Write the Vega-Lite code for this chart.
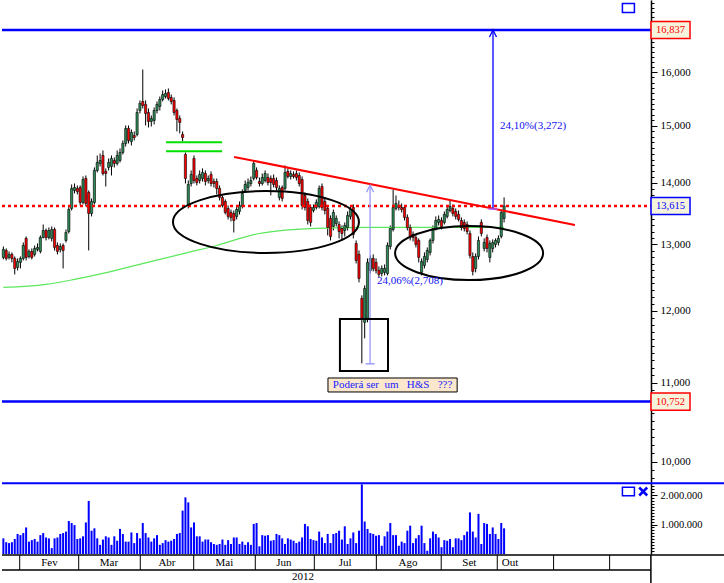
{
"$schema": "https://vega.github.io/schema/vega-lite/v6.json",
"padding": 0,
"spacing": 0,
"background": "white",
"config": {"view": {"stroke": null}, "font": "Liberation Serif", "concat": {"spacing": 0}},
"datasets": {
"ohlc": [
{"i":0,"o":12796,"h":12966,"l":12765,"c":12920,"v":530000},
{"i":1,"o":12904,"h":12935,"l":12749,"c":12780,"v":400000},
{"i":2,"o":12796,"h":12889,"l":12765,"c":12843,"v":370000},
{"i":3,"o":12843,"h":12873,"l":12719,"c":12780,"v":400000},
{"i":4,"o":12780,"h":12811,"l":12536,"c":12627,"v":510000},
{"i":5,"o":12643,"h":12780,"l":12597,"c":12734,"v":680000},
{"i":6,"o":12719,"h":12811,"l":12627,"c":12780,"v":640000},
{"i":7,"o":12780,"h":13029,"l":12749,"c":12982,"v":710000},
{"i":8,"o":13093,"h":13124,"l":12749,"c":12796,"v":900000},
{"i":9,"o":12811,"h":12920,"l":12780,"c":12889,"v":420000},
{"i":10,"o":12889,"h":12935,"l":12765,"c":12796,"v":470000},
{"i":11,"o":12843,"h":12982,"l":12811,"c":12935,"v":510000},
{"i":12,"o":12920,"h":13014,"l":12889,"c":12951,"v":420000},
{"i":13,"o":12889,"h":13140,"l":12858,"c":13108,"v":640000},
{"i":14,"o":13108,"h":13315,"l":13093,"c":13219,"v":710000},
{"i":15,"o":13219,"h":13251,"l":13061,"c":13108,"v":560000},
{"i":16,"o":13108,"h":13267,"l":13077,"c":13219,"v":530000},
{"i":17,"o":13093,"h":13283,"l":13045,"c":13235,"v":200000},
{"i":18,"o":13235,"h":13267,"l":12904,"c":12951,"v":530000},
{"i":19,"o":12982,"h":13029,"l":12843,"c":12889,"v":560000},
{"i":20,"o":12920,"h":13014,"l":12873,"c":12966,"v":680000},
{"i":21,"o":12982,"h":13014,"l":12627,"c":12904,"v":710000},
{"i":22,"o":13061,"h":13235,"l":13029,"c":13187,"v":760000},
{"i":23,"o":13203,"h":13608,"l":13171,"c":13558,"v":1120000},
{"i":24,"o":13575,"h":13974,"l":13542,"c":13907,"v":1050000},
{"i":25,"o":13873,"h":13990,"l":13823,"c":13923,"v":980000},
{"i":26,"o":13907,"h":13957,"l":13807,"c":13856,"v":510000},
{"i":27,"o":13923,"h":13957,"l":13624,"c":13674,"v":530000},
{"i":28,"o":13674,"h":14109,"l":13641,"c":14058,"v":600000},
{"i":29,"o":14075,"h":14126,"l":13608,"c":13657,"v":1070000},
{"i":30,"o":13840,"h":13873,"l":12904,"c":13493,"v":1800000},
{"i":31,"o":13493,"h":13740,"l":13445,"c":13690,"v":790000},
{"i":32,"o":13674,"h":14264,"l":13641,"c":14212,"v":870000},
{"i":33,"o":14212,"h":14471,"l":14178,"c":14350,"v":530000},
{"i":34,"o":14333,"h":14506,"l":14281,"c":14384,"v":310000},
{"i":35,"o":14471,"h":14559,"l":14126,"c":14160,"v":490000},
{"i":36,"o":14195,"h":14247,"l":13940,"c":14160,"v":600000},
{"i":37,"o":14264,"h":14419,"l":14212,"c":14350,"v":560000},
{"i":38,"o":14281,"h":14471,"l":14126,"c":14419,"v":310000},
{"i":39,"o":14384,"h":14436,"l":14264,"c":14333,"v":600000},
{"i":40,"o":14333,"h":14559,"l":14298,"c":14471,"v":450000},
{"i":41,"o":14384,"h":14594,"l":14350,"c":14524,"v":850000},
{"i":42,"o":14524,"h":14736,"l":14489,"c":14683,"v":680000},
{"i":43,"o":14683,"h":15005,"l":14629,"c":14951,"v":420000},
{"i":44,"o":14951,"h":15005,"l":14683,"c":14736,"v":420000},
{"i":45,"o":14718,"h":14933,"l":14647,"c":14879,"v":730000},
{"i":46,"o":14825,"h":14897,"l":14736,"c":14789,"v":370000},
{"i":47,"o":14843,"h":15316,"l":14807,"c":15242,"v":710000},
{"i":48,"o":15279,"h":15465,"l":15224,"c":15409,"v":530000},
{"i":49,"o":15446,"h":16053,"l":15316,"c":15372,"v":1050000},
{"i":50,"o":15391,"h":15465,"l":15005,"c":15224,"v":710000},
{"i":51,"o":15242,"h":15316,"l":14969,"c":15078,"v":560000},
{"i":52,"o":15078,"h":15187,"l":14987,"c":15132,"v":420000},
{"i":53,"o":15096,"h":15335,"l":15023,"c":15279,"v":530000},
{"i":54,"o":15279,"h":15446,"l":15224,"c":15391,"v":640000},
{"i":55,"o":15353,"h":15539,"l":15279,"c":15484,"v":310000},
{"i":56,"o":15484,"h":15652,"l":15446,"c":15577,"v":370000},
{"i":57,"o":15539,"h":15671,"l":15502,"c":15596,"v":470000},
{"i":58,"o":15614,"h":15690,"l":15465,"c":15502,"v":420000},
{"i":59,"o":15521,"h":15577,"l":15391,"c":15446,"v":450000},
{"i":60,"o":15465,"h":15521,"l":15187,"c":15242,"v":510000},
{"i":61,"o":15279,"h":15316,"l":14897,"c":15114,"v":680000},
{"i":62,"o":15132,"h":15187,"l":14861,"c":15060,"v":710000},
{"i":63,"o":14843,"h":14897,"l":14718,"c":14789,"v":1470000},
{"i":64,"o":14489,"h":14524,"l":13990,"c":14075,"v":1920000},
{"i":65,"o":13624,"h":14041,"l":13575,"c":13974,"v":1750000},
{"i":66,"o":13990,"h":14212,"l":13940,"c":14143,"v":900000},
{"i":67,"o":14419,"h":14471,"l":13990,"c":14041,"v":1070000},
{"i":68,"o":14075,"h":14126,"l":13957,"c":14007,"v":600000},
{"i":69,"o":14041,"h":14212,"l":13990,"c":14143,"v":600000},
{"i":70,"o":14075,"h":14247,"l":14024,"c":14178,"v":420000},
{"i":71,"o":14160,"h":14212,"l":13957,"c":14024,"v":490000},
{"i":72,"o":14041,"h":14126,"l":13990,"c":14075,"v":490000},
{"i":73,"o":14143,"h":14195,"l":13940,"c":13990,"v":400000},
{"i":74,"o":14024,"h":14075,"l":13923,"c":13990,"v":340000},
{"i":75,"o":14024,"h":14075,"l":13807,"c":13907,"v":310000},
{"i":76,"o":13907,"h":13957,"l":13707,"c":13757,"v":340000},
{"i":77,"o":13757,"h":13790,"l":13591,"c":13624,"v":490000},
{"i":78,"o":13690,"h":13724,"l":13477,"c":13510,"v":310000},
{"i":79,"o":13575,"h":13624,"l":13396,"c":13445,"v":470000},
{"i":80,"o":13510,"h":13558,"l":13364,"c":13429,"v":340000},
{"i":81,"o":13493,"h":13542,"l":13187,"c":13380,"v":560000},
{"i":82,"o":13445,"h":13624,"l":13396,"c":13558,"v":560000},
{"i":83,"o":13526,"h":13690,"l":13477,"c":13624,"v":340000},
{"i":84,"o":13608,"h":13890,"l":13575,"c":13823,"v":420000},
{"i":85,"o":13873,"h":14041,"l":13840,"c":13974,"v":310000},
{"i":86,"o":13923,"h":14075,"l":13873,"c":14007,"v":400000},
{"i":87,"o":13990,"h":14109,"l":13940,"c":14041,"v":310000},
{"i":88,"o":14075,"h":14384,"l":14041,"c":14333,"v":1020000},
{"i":89,"o":14212,"h":14264,"l":14058,"c":14092,"v":1050000},
{"i":90,"o":14024,"h":14092,"l":13940,"c":13990,"v":260000},
{"i":91,"o":13990,"h":14160,"l":13957,"c":14092,"v":640000},
{"i":92,"o":14041,"h":14212,"l":14007,"c":14160,"v":620000},
{"i":93,"o":14092,"h":14160,"l":13957,"c":14007,"v":640000},
{"i":94,"o":14075,"h":14126,"l":13790,"c":14007,"v":450000},
{"i":95,"o":14075,"h":14143,"l":13923,"c":13974,"v":470000},
{"i":96,"o":14041,"h":14092,"l":13873,"c":13923,"v":680000},
{"i":97,"o":13757,"h":13957,"l":13707,"c":13907,"v":640000},
{"i":98,"o":13923,"h":13957,"l":13690,"c":13740,"v":530000},
{"i":99,"o":13907,"h":14298,"l":13873,"c":14178,"v":340000},
{"i":100,"o":14195,"h":14247,"l":14075,"c":14109,"v":530000},
{"i":101,"o":14109,"h":14212,"l":14058,"c":14160,"v":490000},
{"i":102,"o":14143,"h":14195,"l":14075,"c":14109,"v":450000},
{"i":103,"o":14160,"h":14212,"l":14041,"c":14092,"v":370000},
{"i":104,"o":14126,"h":14178,"l":13940,"c":13990,"v":420000},
{"i":105,"o":14058,"h":14109,"l":13558,"c":13624,"v":560000},
{"i":106,"o":13790,"h":13840,"l":13542,"c":13591,"v":1020000},
{"i":107,"o":13690,"h":13740,"l":13315,"c":13380,"v":940000},
{"i":108,"o":13591,"h":13641,"l":13283,"c":13348,"v":510000},
{"i":109,"o":13542,"h":13641,"l":13510,"c":13591,"v":470000},
{"i":110,"o":13591,"h":13724,"l":13558,"c":13674,"v":450000},
{"i":111,"o":13608,"h":13957,"l":13575,"c":13907,"v":760000},
{"i":112,"o":13940,"h":13990,"l":13542,"c":13591,"v":560000},
{"i":113,"o":13690,"h":13740,"l":13477,"c":13542,"v":370000},
{"i":114,"o":13575,"h":13608,"l":13140,"c":13267,"v":680000},
{"i":115,"o":13412,"h":13461,"l":13061,"c":13124,"v":370000},
{"i":116,"o":13283,"h":13558,"l":13219,"c":13510,"v":680000},
{"i":117,"o":13331,"h":13461,"l":13283,"c":13412,"v":710000},
{"i":118,"o":13315,"h":13364,"l":13093,"c":13203,"v":790000},
{"i":119,"o":13251,"h":13299,"l":13061,"c":13171,"v":490000},
{"i":120,"o":13219,"h":13348,"l":13124,"c":13299,"v":940000},
{"i":121,"o":13267,"h":13526,"l":13219,"c":13461,"v":340000},
{"i":122,"o":13445,"h":13624,"l":13396,"c":13558,"v":530000},
{"i":123,"o":13591,"h":13641,"l":13093,"c":13156,"v":730000},
{"i":124,"o":13014,"h":13061,"l":12704,"c":12749,"v":370000},
{"i":125,"o":12843,"h":12904,"l":12416,"c":12476,"v":790000},
{"i":126,"o":12179,"h":12223,"l":11260,"c":11889,"v":2360000},
{"i":127,"o":11832,"h":12371,"l":11605,"c":12327,"v":1100000},
{"i":128,"o":11889,"h":12780,"l":11832,"c":12719,"v":850000},
{"i":129,"o":12597,"h":12827,"l":12551,"c":12780,"v":710000},
{"i":130,"o":12780,"h":12843,"l":12582,"c":12627,"v":680000},
{"i":131,"o":12719,"h":12780,"l":12551,"c":12597,"v":620000},
{"i":132,"o":12597,"h":12658,"l":12491,"c":12536,"v":640000},
{"i":133,"o":12551,"h":12673,"l":12506,"c":12627,"v":280000},
{"i":134,"o":12567,"h":12688,"l":12521,"c":12627,"v":600000},
{"i":135,"o":12551,"h":13029,"l":12521,"c":12982,"v":760000},
{"i":136,"o":12966,"h":13299,"l":12920,"c":13251,"v":1050000},
{"i":137,"o":13235,"h":13890,"l":13203,"c":13591,"v":640000},
{"i":138,"o":13575,"h":13790,"l":13542,"c":13657,"v":640000},
{"i":139,"o":13624,"h":13707,"l":13542,"c":13591,"v":280000},
{"i":140,"o":13591,"h":13657,"l":13510,"c":13558,"v":420000},
{"i":141,"o":13591,"h":13624,"l":13380,"c":13429,"v":370000},
{"i":142,"o":13429,"h":13477,"l":13219,"c":13267,"v":790000},
{"i":143,"o":13267,"h":13315,"l":13061,"c":13124,"v":960000},
{"i":144,"o":13156,"h":13203,"l":13045,"c":13108,"v":370000},
{"i":145,"o":13108,"h":13156,"l":12951,"c":12998,"v":530000},
{"i":146,"o":13061,"h":13093,"l":12719,"c":12796,"v":640000},
{"i":147,"o":12567,"h":12780,"l":12521,"c":12734,"v":960000},
{"i":148,"o":12673,"h":12873,"l":12627,"c":12811,"v":370000},
{"i":149,"o":12765,"h":12951,"l":12719,"c":12904,"v":110000},
{"i":150,"o":12873,"h":13093,"l":12827,"c":13061,"v":530000},
{"i":151,"o":13061,"h":13299,"l":13014,"c":13251,"v":760000},
{"i":152,"o":13251,"h":13445,"l":13219,"c":13380,"v":680000},
{"i":153,"o":13348,"h":13461,"l":13299,"c":13396,"v":560000},
{"i":154,"o":13380,"h":13429,"l":13235,"c":13283,"v":230000},
{"i":155,"o":13348,"h":13526,"l":13315,"c":13477,"v":470000},
{"i":156,"o":13445,"h":13624,"l":13412,"c":13558,"v":450000},
{"i":157,"o":13542,"h":13724,"l":13510,"c":13608,"v":510000},
{"i":158,"o":13575,"h":13641,"l":13445,"c":13493,"v":230000},
{"i":159,"o":13526,"h":13575,"l":13396,"c":13445,"v":530000},
{"i":160,"o":13477,"h":13542,"l":13364,"c":13396,"v":530000},
{"i":161,"o":13380,"h":13429,"l":13219,"c":13267,"v":470000},
{"i":162,"o":13348,"h":13396,"l":13203,"c":13251,"v":640000},
{"i":163,"o":13315,"h":13364,"l":13156,"c":13203,"v":760000},
{"i":164,"o":13171,"h":13219,"l":12780,"c":12827,"v":1410000},
{"i":165,"o":12811,"h":12873,"l":12521,"c":12582,"v":760000},
{"i":166,"o":12627,"h":12858,"l":12567,"c":12811,"v":560000},
{"i":167,"o":12811,"h":13124,"l":12765,"c":13061,"v":1360000},
{"i":168,"o":13348,"h":13396,"l":13124,"c":13171,"v":340000},
{"i":169,"o":12935,"h":13093,"l":12889,"c":13029,"v":1050000},
{"i":170,"o":13108,"h":13156,"l":12873,"c":12935,"v":1020000},
{"i":171,"o":12796,"h":13061,"l":12719,"c":13014,"v":680000},
{"i":172,"o":12935,"h":13077,"l":12873,"c":13029,"v":900000},
{"i":173,"o":12998,"h":13093,"l":12951,"c":13061,"v":680000},
{"i":174,"o":13029,"h":13140,"l":12982,"c":13093,"v":510000},
{"i":175,"o":13124,"h":13558,"l":13093,"c":13510,"v":1050000},
{"i":176,"o":13412,"h":13757,"l":13348,"c":13615,"v":870000}
],
"ma": [
{"i":0,"p":12341},{"i":15,"p":12386},{"i":25,"p":12461},{"i":35,"p":12551},{"i":45,"p":12658},{"i":55,"p":12765},{"i":65,"p":12873},{"i":75,"p":12982},{"i":82,"p":13077},{"i":90,"p":13171},{"i":98,"p":13219},{"i":110,"p":13251},{"i":130,"p":13267},{"i":176,"p":13267}
],
"levels": [
{"kind":"target","p":16837,"i0":-0.48,"i1":227.6,"ti":234.5,"label":"16,837"},
{"kind":"last","p":13615,"i0":-0.48,"i1":227.6,"ti":234.5,"label":"13,615"},
{"kind":"stop","p":10752,"i0":-0.48,"i1":227.6,"ti":234.5,"label":"10,752"}
],
"moves": [
{"name":"A","i":172.1,"p0":13565,"p1":16837,"label":"24,10%(3,272)","ti":174.6,"tp":14997},
{"name":"B","i":128.9,"p0":11254,"p1":13962,"label":"24,06%(2,708)","ti":131.3,"tp":12437}
]
},
"vconcat": [
{
"width": 724, "height": 482,
"resolve": {"axis": {"y": "independent"}},
"layer": [
{"data": {"name": "ohlc"}, "mark": {"type": "rule", "color": "black", "strokeWidth": 1},
 "encoding": {
  "x": {"field": "i", "type": "quantitative", "scale": {"domain": [-0.48, 254], "nice": false, "zero": false, "padding": 0}, "axis": null},
  "y": {"field": "l", "type": "quantitative", "scale": {"type": "log", "domain": [9758, 17458], "nice": false, "zero": false},
   "axis": {"orient": "right", "offset": -75, "title": null, "grid": false,
    "values": [10000,11000,12000,13000,14000,15000,16000,17000],
    "labelExpr": "datum.value >= 17000 ? '' : format(datum.value, ',')", "tickSize": 6,
    "domainColor": "black", "domainWidth": 1.5, "tickColor": "black", "labelColor": "black",
    "labelFont": "Liberation Serif", "labelFontSize": 11, "labelPadding": 3, "labelOverlap": false, "labelFlush": false, "labelBound": false}},
  "y2": {"field": "h"}
 }},
{"data": {"name": "ma"}, "mark": {"type": "line", "color": "#5be85b", "strokeWidth": 1.2, "interpolate": "monotone"},
 "encoding": {
  "x": {"field": "i", "type": "quantitative", "scale": {"domain": [-0.48, 254], "nice": false, "zero": false, "padding": 0}, "axis": null},
  "y": {"field": "p", "type": "quantitative", "scale": {"type": "log", "domain": [9758, 17458], "nice": false, "zero": false},
   "axis": {"orient": "right", "offset": -75, "title": null, "grid": false, "labels": false, "domain": false,
    "values": [9800,9900,10100,10200,10300,10400,10500,10600,10700,10800,10900,11100,11200,11300,11400,11500,11600,11700,11800,11900,12100,12200,12300,12400,12500,12600,12700,12800,12900,13100,13200,13300,13400,13500,13600,13700,13800,13900,14100,14200,14300,14400,14500,14600,14700,14800,14900,15100,15200,15300,15400,15500,15600,15700,15800,15900,16100,16200,16300,16400,16500,16600,16700,16800,16900,17100,17200,17300,17400],
    "tickSize": 3, "tickColor": "black"}}
 }},
{"data": {"name": "ohlc"}, "mark": {"type": "bar", "size": 2.2, "stroke": "black", "strokeWidth": 0.6, "orient": "vertical"},
 "encoding": {
  "x": {"field": "i", "type": "quantitative", "scale": {"domain": [-0.48, 254], "nice": false, "zero": false, "padding": 0}, "axis": null},
  "y": {"field": "o", "type": "quantitative", "scale": {"type": "log", "domain": [9758, 17458], "nice": false, "zero": false}, "axis": null},
  "y2": {"field": "c"},
  "fill": {"condition": {"test": "datum.o > datum.c", "value": "#ff0000"}, "value": "#2e8b57"}
 }},
{"data": {"name": "levels"}, "transform": [{"filter": "datum.kind !== 'last'"}], "mark": {"type": "rule", "color": "#0000ff", "strokeWidth": 2.5},
 "encoding": {
  "x": {"field": "i0", "type": "quantitative", "scale": {"domain": [-0.48, 254], "nice": false, "zero": false, "padding": 0}, "axis": null},
  "x2": {"field": "i1"},
  "y": {"field": "p", "type": "quantitative", "scale": {"type": "log", "domain": [9758, 17458], "nice": false, "zero": false}, "axis": null}
 }},
{"data": {"name": "levels"}, "transform": [{"filter": "datum.kind === 'last'"}], "mark": {"type": "rule", "color": "#ff0000", "strokeWidth": 2.5, "strokeDash": [3, 3]},
 "encoding": {
  "x": {"field": "i0", "type": "quantitative", "scale": {"domain": [-0.48, 254], "nice": false, "zero": false, "padding": 0}, "axis": null},
  "x2": {"field": "i1"},
  "y": {"field": "p", "type": "quantitative", "scale": {"type": "log", "domain": [9758, 17458], "nice": false, "zero": false}, "axis": null}
 }},
{"data": {"values": [{"i": 81.1, "p": 14446}, {"i": 200.9, "p": 13307}]}, "mark": {"type": "line", "color": "#ff0000", "strokeWidth": 2},
 "encoding": {
  "x": {"field": "i", "type": "quantitative", "scale": {"domain": [-0.48, 254], "nice": false, "zero": false, "padding": 0}, "axis": null},
  "y": {"field": "p", "type": "quantitative", "scale": {"type": "log", "domain": [9758, 17458], "nice": false, "zero": false}, "axis": null}
 }},
{"data": {"values": [{"p": 14703, "i0": 57.2, "i1": 76.9}, {"p": 14544, "i0": 57.2, "i1": 76.9}]}, "mark": {"type": "rule", "color": "#00e000", "strokeWidth": 2},
 "encoding": {
  "x": {"field": "i0", "type": "quantitative", "scale": {"domain": [-0.48, 254], "nice": false, "zero": false, "padding": 0}, "axis": null},
  "x2": {"field": "i1"},
  "y": {"field": "p", "type": "quantitative", "scale": {"type": "log", "domain": [9758, 17458], "nice": false, "zero": false}, "axis": null}
 }},
{"data": {"values": [{"i": 92.3, "p": 13355}]}, "mark": {"type": "point", "shape": "M -1 0 C -1 -0.184 -0.552 -0.333 0 -0.333 C 0.552 -0.333 1 -0.184 1 0 C 1 0.184 0.552 0.333 0 0.333 C -0.552 0.333 -1 0.184 -1 0 Z", "size": 34596, "filled": false, "color": "black", "strokeWidth": 2, "opacity": 1},
 "encoding": {
  "x": {"field": "i", "type": "quantitative", "scale": {"domain": [-0.48, 254], "nice": false, "zero": false, "padding": 0}, "axis": null},
  "y": {"field": "p", "type": "quantitative", "scale": {"type": "log", "domain": [9758, 17458], "nice": false, "zero": false}, "axis": null}
 }},
{"data": {"values": [{"i": 163.7, "p": 12863}]}, "mark": {"type": "point", "shape": "M -1 0 C -1 -0.2016 -0.552 -0.365 0 -0.365 C 0.552 -0.365 1 -0.2016 1 0 C 1 0.2016 0.552 0.365 0 0.365 C -0.552 0.365 -1 0.2016 -1 0 Z", "size": 21904, "filled": false, "color": "black", "strokeWidth": 2, "opacity": 1},
 "encoding": {
  "x": {"field": "i", "type": "quantitative", "scale": {"domain": [-0.48, 254], "nice": false, "zero": false, "padding": 0}, "axis": null},
  "y": {"field": "p", "type": "quantitative", "scale": {"type": "log", "domain": [9758, 17458], "nice": false, "zero": false}, "axis": null}
 }},
{"data": {"name": "moves"}, "mark": {"type": "rule", "strokeWidth": 1.3},
 "encoding": {
  "x": {"field": "i", "type": "quantitative", "scale": {"domain": [-0.48, 254], "nice": false, "zero": false, "padding": 0}, "axis": null},
  "y": {"field": "p0", "type": "quantitative", "scale": {"type": "log", "domain": [9758, 17458], "nice": false, "zero": false}, "axis": null},
  "y2": {"field": "p1"},
  "color": {"condition": {"test": "datum.name === 'A'", "value": "#0000ff"}, "value": "#9a9aff"}
 }},
{"data": {"name": "moves"}, "mark": {"type": "point", "shape": "M -1 2 L 0 0 L 1 2", "size": 49, "filled": false, "strokeWidth": 1.3, "opacity": 1},
 "encoding": {
  "x": {"field": "i", "type": "quantitative", "scale": {"domain": [-0.48, 254], "nice": false, "zero": false, "padding": 0}, "axis": null},
  "y": {"field": "p1", "type": "quantitative", "scale": {"type": "log", "domain": [9758, 17458], "nice": false, "zero": false}, "axis": null},
  "color": {"condition": {"test": "datum.name === 'A'", "value": "#0000ff"}, "value": "#9a9aff"}
 }},
{"data": {"name": "moves"}, "mark": {"type": "point", "shape": "M -1 0 L 1 0", "size": 81, "filled": false, "strokeWidth": 1.5, "opacity": 1},
 "encoding": {
  "x": {"field": "i", "type": "quantitative", "scale": {"domain": [-0.48, 254], "nice": false, "zero": false, "padding": 0}, "axis": null},
  "y": {"field": "p0", "type": "quantitative", "scale": {"type": "log", "domain": [9758, 17458], "nice": false, "zero": false}, "axis": null},
  "color": {"condition": {"test": "datum.name === 'A'", "value": "#b060ff"}, "value": "#9a9aff"}
 }},
{"data": {"name": "moves"}, "mark": {"type": "text", "align": "left", "baseline": "middle", "fontSize": 11, "color": "#1010f0", "font": "Liberation Serif"},
 "encoding": {
  "x": {"field": "ti", "type": "quantitative", "scale": {"domain": [-0.48, 254], "nice": false, "zero": false, "padding": 0}, "axis": null},
  "y": {"field": "tp", "type": "quantitative", "scale": {"type": "log", "domain": [9758, 17458], "nice": false, "zero": false}, "axis": null},
  "text": {"field": "label"}
 }},
{"data": {"values": [{"i0": 118.3, "i1": 135.2, "p0": 11158, "p1": 11881}]}, "mark": {"type": "rect", "filled": false, "stroke": "black", "strokeWidth": 2},
 "encoding": {
  "x": {"field": "i0", "type": "quantitative", "scale": {"domain": [-0.48, 254], "nice": false, "zero": false, "padding": 0}, "axis": null},
  "x2": {"field": "i1"},
  "y": {"field": "p0", "type": "quantitative", "scale": {"type": "log", "domain": [9758, 17458], "nice": false, "zero": false}, "axis": null},
  "y2": {"field": "p1"}
 }},
{"data": {"values": [{"i0": 114.1, "i1": 159.5, "p0": 10878, "p1": 11063}]}, "mark": {"type": "rect", "fill": "#fbe8cc", "stroke": "black", "strokeWidth": 1},
 "encoding": {
  "x": {"field": "i0", "type": "quantitative", "scale": {"domain": [-0.48, 254], "nice": false, "zero": false, "padding": 0}, "axis": null},
  "x2": {"field": "i1"},
  "y": {"field": "p0", "type": "quantitative", "scale": {"type": "log", "domain": [9758, 17458], "nice": false, "zero": false}, "axis": null},
  "y2": {"field": "p1"}
 }},
{"data": {"values": [{"i": 136.8, "p": 10970, "label": "Poderá ser\u00a0 um \u00a0 H&S \u00a0 ???"}]}, "mark": {"type": "text", "align": "center", "baseline": "middle", "fontSize": 11, "color": "#2020ff", "font": "Liberation Serif"},
 "encoding": {
  "x": {"field": "i", "type": "quantitative", "scale": {"domain": [-0.48, 254], "nice": false, "zero": false, "padding": 0}, "axis": null},
  "y": {"field": "p", "type": "quantitative", "scale": {"type": "log", "domain": [9758, 17458], "nice": false, "zero": false}, "axis": null},
  "text": {"field": "label"}
 }},
{"data": {"name": "levels"}, "mark": {"type": "point", "shape": "M -1 -0.436 H 1 V 0.436 H -1 Z", "size": 1521, "filled": true, "fill": "#f6f3dc", "strokeWidth": 1.5, "opacity": 1},
 "encoding": {
  "x": {"field": "ti", "type": "quantitative", "scale": {"domain": [-0.48, 254], "nice": false, "zero": false, "padding": 0}, "axis": null},
  "y": {"field": "p", "type": "quantitative", "scale": {"type": "log", "domain": [9758, 17458], "nice": false, "zero": false}, "axis": null},
  "stroke": {"condition": {"test": "datum.kind === 'last'", "value": "#0000ff"}, "value": "#ff0000"}
 }},
{"data": {"name": "levels"}, "mark": {"type": "text", "align": "center", "baseline": "middle", "fontSize": 10.5, "font": "Liberation Serif"},
 "encoding": {
  "x": {"field": "ti", "type": "quantitative", "scale": {"domain": [-0.48, 254], "nice": false, "zero": false, "padding": 0}, "axis": null},
  "y": {"field": "p", "type": "quantitative", "scale": {"type": "log", "domain": [9758, 17458], "nice": false, "zero": false}, "axis": null},
  "text": {"field": "label"},
  "color": {"condition": {"test": "datum.kind === 'last'", "value": "#0000ff"}, "value": "#ff0000"}
 }},
{"data": {"values": [{"i": 219.7, "p": 17290}]}, "mark": {"type": "point", "shape": "M -1 -0.75 H 1 V 0.75 H -1 Z", "size": 144, "filled": false, "color": "#0000ff", "strokeWidth": 1.5, "opacity": 1},
 "encoding": {
  "x": {"field": "i", "type": "quantitative", "scale": {"domain": [-0.48, 254], "nice": false, "zero": false, "padding": 0}, "axis": null},
  "y": {"field": "p", "type": "quantitative", "scale": {"type": "log", "domain": [9758, 17458], "nice": false, "zero": false}, "axis": null}
 }}
]
},
{
"width": 724, "height": 71,
"resolve": {"axis": {"y": "independent"}},
"layer": [
{"data": {"name": "ohlc"}, "mark": {"type": "bar", "size": 2, "color": "#0000ff", "orient": "vertical"},
 "encoding": {
  "x": {"field": "i", "type": "quantitative", "scale": {"domain": [-0.48, 254], "nice": false, "zero": false, "padding": 0}, "axis": null},
  "y": {"field": "v", "type": "quantitative", "scale": {"domain": [0, 2407000], "nice": false},
   "axis": {"orient": "right", "offset": -75, "title": null, "grid": false,
    "values": [1000000, 2000000],
    "labelExpr": "datum.value == 1000000 ? '1.000.000' : '2.000.000'",
    "tickSize": 6,
    "domainColor": "black", "domainWidth": 1.5, "tickColor": "black", "labelColor": "black",
    "labelFont": "Liberation Serif", "labelFontSize": 10.5, "labelPadding": 3, "labelOverlap": false, "labelFlush": false, "labelBound": false}}
 }},
{"data": {"values": [{"v": 2400000}]}, "mark": {"type": "rule", "color": "#0000ff", "strokeWidth": 2},
 "encoding": {
  "y": {"field": "v", "type": "quantitative", "scale": {"domain": [0, 2407000], "nice": false},
   "axis": {"orient": "right", "offset": -75, "title": null, "grid": false, "labels": false, "domain": false, "tickSize": 3, "tickColor": "black",
    "values": [100000,200000,300000,400000,500000,600000,700000,800000,900000,1100000,1200000,1300000,1400000,1500000,1600000,1700000,1800000,1900000,2100000,2200000,2300000,2400000]}}
 }},
{"data": {"values": [{"i": 219.7, "v": 2119000}]}, "mark": {"type": "point", "shape": "M -1 -0.7 H 1 V 0.7 H -1 Z", "size": 144, "filled": false, "color": "#0000ff", "strokeWidth": 1.5, "opacity": 1},
 "encoding": {
  "x": {"field": "i", "type": "quantitative", "scale": {"domain": [-0.48, 254], "nice": false, "zero": false, "padding": 0}, "axis": null},
  "y": {"field": "v", "type": "quantitative", "scale": {"domain": [0, 2407000], "nice": false}, "axis": null}
 }},
{"data": {"values": [{"i": 224.9, "v": 2119000}]}, "mark": {"type": "point", "shape": "M -1 -1 L 1 1 M 1 -1 L -1 1", "size": 64, "filled": false, "color": "#0000ff", "strokeWidth": 2.5, "opacity": 1},
 "encoding": {
  "x": {"field": "i", "type": "quantitative", "scale": {"domain": [-0.48, 254], "nice": false, "zero": false, "padding": 0}, "axis": null},
  "y": {"field": "v", "type": "quantitative", "scale": {"domain": [0, 2407000], "nice": false}, "axis": null}
 }}
]
},
{
"width": 724, "height": 30,
"layer": [
{"data": {"values": [{"i": 5.74}, {"i": 26.48}, {"i": 48.13}, {"i": 66.9}, {"i": 88.55}, {"i": 109.3}, {"i": 131.1}, {"i": 153.9}, {"i": 173.6}, {"i": 193.4}, {"i": 213.1}]},
 "mark": {"type": "rule", "color": "black", "strokeWidth": 1},
 "encoding": {
  "x": {"field": "i", "type": "quantitative", "scale": {"domain": [-0.48, 254], "nice": false, "zero": false, "padding": 0}, "axis": null},
  "y": {"datum": 1, "type": "quantitative", "scale": {"domain": [0, 2], "nice": false}, "axis": null},
  "y2": {"datum": 2}
 }},
{"data": {"values": [{"r": 2, "i0": -0.48, "i1": 254}, {"r": 1, "i0": -0.48, "i1": 227.6}, {"r": 0.07, "i0": -0.48, "i1": 227.6}]},
 "mark": {"type": "rule", "color": "black", "strokeWidth": 1.3},
 "encoding": {
  "x": {"field": "i0", "type": "quantitative", "scale": {"domain": [-0.48, 254], "nice": false, "zero": false, "padding": 0}, "axis": null},
  "x2": {"field": "i1"},
  "y": {"field": "r", "type": "quantitative", "scale": {"domain": [0, 2], "nice": false}, "axis": null}
 }},
{"data": {"values": [{"i": 227.6}]},
 "mark": {"type": "rule", "color": "black", "strokeWidth": 1.5},
 "encoding": {
  "x": {"field": "i", "type": "quantitative", "scale": {"domain": [-0.48, 254], "nice": false, "zero": false, "padding": 0}, "axis": null},
  "y": {"datum": 0, "type": "quantitative", "scale": {"domain": [0, 2], "nice": false}, "axis": null},
  "y2": {"datum": 2}
 }},
{"data": {"values": [{"m": "Fev", "i": 16.2}, {"m": "Mar", "i": 37.1}, {"m": "Abr", "i": 57.5}, {"m": "Mai", "i": 77.7}, {"m": "Jun", "i": 98.6}, {"m": "Jul", "i": 120.1}, {"m": "Ago", "i": 142.2}, {"m": "Set", "i": 163.8}, {"m": "Out", "i": 178.1}]},
 "mark": {"type": "text", "align": "center", "baseline": "middle", "fontSize": 11, "color": "black", "font": "Liberation Serif"},
 "encoding": {
  "x": {"field": "i", "type": "quantitative", "scale": {"domain": [-0.48, 254], "nice": false, "zero": false, "padding": 0}, "axis": null},
  "y": {"datum": 1.5, "type": "quantitative", "scale": {"domain": [0, 2], "nice": false}, "axis": null},
  "text": {"field": "m"}
 }},
{"data": {"values": [{"yr": "2012", "i": 105.3}]},
 "mark": {"type": "text", "align": "center", "baseline": "middle", "fontSize": 11, "color": "black", "font": "Liberation Serif"},
 "encoding": {
  "x": {"field": "i", "type": "quantitative", "scale": {"domain": [-0.48, 254], "nice": false, "zero": false, "padding": 0}, "axis": null},
  "y": {"datum": 0.55, "type": "quantitative", "scale": {"domain": [0, 2], "nice": false}, "axis": null},
  "text": {"field": "yr"}
 }}
]
}
]
}
